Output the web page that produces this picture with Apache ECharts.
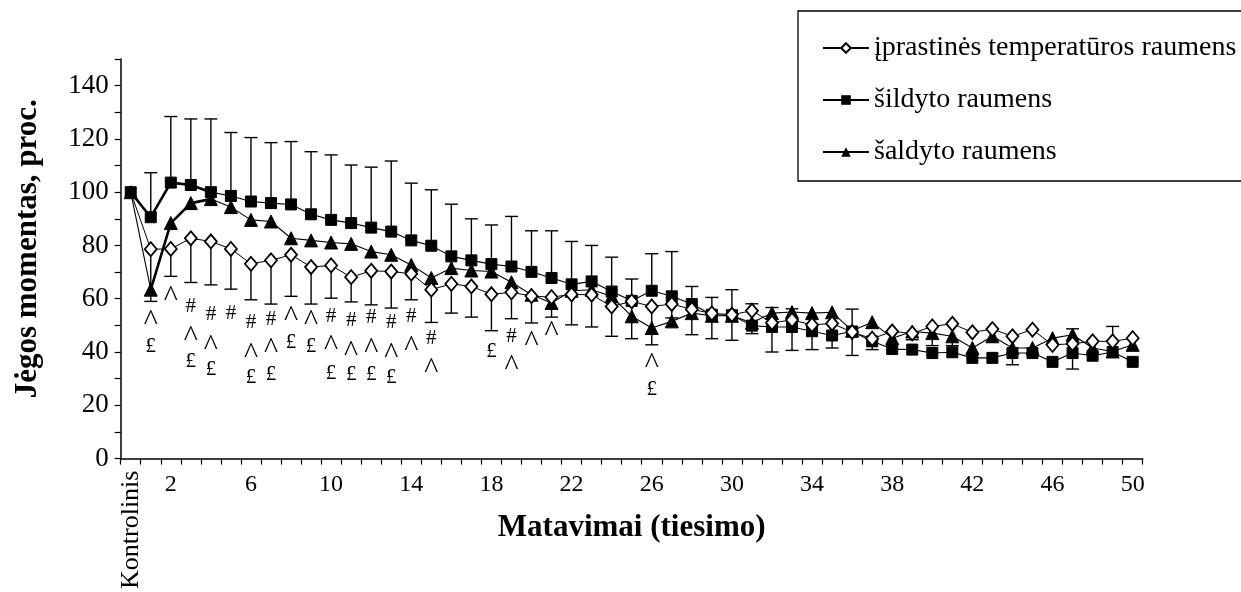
<!DOCTYPE html>
<html>
<head>
<meta charset="utf-8">
<script src="https://cdn.jsdelivr.net/npm/echarts@6/dist/echarts.min.js"></script>
<style>
html,body{margin:0;padding:0;background:#fff;}
#chart{width:1241px;height:592px;}
</style>
</head>
<body>
<div id="chart"></div>
<script>
// ---- data ----
const categories = ['Kontrolinis'];
for (let i = 1; i <= 50; i++) categories.push(String(i));

const seriesNames = ['įprastinės temperatūros raumens', 'šildyto raumens', 'šaldyto raumens'];

const iprastines = [100,78.6,78.7,82.7,81.5,78.7,73.1,74.4,76.5,71.9,72.5,68.1,70.5,70.2,69.4,63.4,65.6,64.6,61.7,62.4,61,60.6,61.6,61.5,57.1,59,57.1,58,56,54.5,54,55.5,51,52,50.2,50.7,47.5,45,47.7,47,49.6,50.6,47.4,48.6,45.9,48.4,42.7,43.1,44,44,45.2];
const sildyto = [100,90.6,103.6,102.7,100,98.6,96.5,95.9,95.4,91.7,89.6,88.4,86.7,85.2,81.9,79.9,75.9,74.4,73,72.1,70.1,67.8,65.4,66.5,62.7,59.2,63,60.9,58,54,53.8,49.9,49.4,49.4,47.8,46.2,47.7,44,41.1,40.9,39.6,39.9,37.8,37.8,39.6,39.6,36.3,39.6,38.6,40,36.3];
const saldyto = [100,63.4,88.4,95.9,97.4,94.4,89.6,89,82.7,81.9,81.1,80.6,77.7,76.5,72.7,67.8,71.5,70.6,70.2,66.2,61.5,58.4,63,63.4,60.9,53.4,49,51.5,54.6,53.6,53.6,51,54.6,55,54.6,54.9,48,51.2,45.2,47.7,47.1,45.9,41.5,45.9,41.5,41.5,45.2,46.5,41.5,40.2,42.7];

// upper error-bar ends (šildyto) and lower error-bar ends (įprastinės)
const sildytoUpper = [null,107.3,128.4,127.5,127.5,122.4,120.5,118.6,119,115.2,114,110.2,109.4,111.7,103.4,100.9,95.5,90,87.7,90.9,85.5,85.5,81.5,80,75.6,67.4,76.9,77.7,64.6,60.5,63.4,58.1,56.7,56.2,null,null,56.1,null,null,null,null,null,null,null,null,null,null,48.7,null,49.6,null];
const iprastinesLower = [null,59,68.4,66.1,65.2,63.6,59.6,58,60.9,58,60.2,58.8,57.7,56.5,59.6,51.1,54.6,53.1,48,52.5,50.9,53.1,50.2,49.4,45.9,45,42.7,52.8,46.5,45,44.4,46.9,40,40.6,40.9,41.5,38.7,40.9,null,44.6,42.4,42.4,null,null,35.2,null,null,33.6,null,null,null];

// significance marks: category index, value position, text
const markIndex = [1,1, 2, 3,3,3, 4,4,4, 5, 6,6,6, 7,7,7, 8,8, 9,9, 10,10,10, 11,11,11, 12,12,12, 13,13,13, 14,14, 15,15, 18, 19,19, 20, 21, 26,26];
const markValue = [54,42.1, 62.7, 57.1,47.7,36.5, 54,44.6,33.4, 54.4, 50.9,41.5,30.3, 52.1,43.4,31.5, 55.2,43.4, 54,42.1, 53.4,44.6,32.1, 51.9,42.1,31.5, 52.8,43.4,31.5, 50.9,41.5,30.3, 53.4,44, 44.9,35.9, 40.2, 45.9,37.1, 45.9, 49.6, 37.8,25.9];
const markText = ['^','£', '^', '#','^','£', '#','^','£', '#', '#','^','£', '#','^','£', '^','£', '^','£', '#','^','£', '#','^','£', '#','^','£', '#','^','£', '#','^', '#','^', '£', '#','^', '^', '^', '^','£'];

const yTicks = [0,20,40,60,80,100,120,140];

// ---- chart ----
const FONT = '"Liberation Serif","Times New Roman",serif';
const chart = echarts.init(document.getElementById('chart'), null, {renderer: 'canvas'});

function errData(vals, ends) {
  const out = [];
  for (let i = 0; i < vals.length; i++) if (ends[i] != null) out.push([i, vals[i], ends[i]]);
  return out;
}
function errRender(params, api) {
  const x = api.value(0);
  const p1 = api.coord([x, api.value(1)]);
  const p2 = api.coord([x, api.value(2)]);
  const w = 6.5;
  const st = {stroke: '#000', lineWidth: 1.4};
  return {type: 'group', children: [
    {type: 'line', shape: {x1: p1[0], y1: p1[1], x2: p2[0], y2: p2[1]}, style: st},
    {type: 'line', shape: {x1: p2[0] - w, y1: p2[1], x2: p2[0] + w, y2: p2[1]}, style: st}
  ]};
}
const marks = markIndex.map((m, k) => [m, markValue[k], k]);
// first segments drawn bolder in the original
const sildytoBold = sildyto.map((v, i) => i <= 4 ? v : null);
const saldytoBold = saldyto.map((v, i) => i >= 1 && i <= 4 ? v : null);
// the control point of the diamond series is hidden behind the square
const iprastinesData = iprastines.map((v, i) => i === 0 ? {value: v, symbol: 'none'} : v);

chart.setOption({
  animation: false,
  grid: {left: 120.7, right: 98.3, top: 59, bottom: 133, containLabel: false},
  legend: {
    orient: 'vertical', left: 798, top: 11,
    padding: [22, 80, 14, 24],
    itemGap: 22, itemWidth: 46, itemHeight: 12,
    borderColor: '#000', borderWidth: 1.3,
    selectedMode: false,
    data: seriesNames,
    textStyle: {fontFamily: FONT, fontSize: 28, color: '#000', lineHeight: 30}
  },
  xAxis: [{
    type: 'category', data: categories, boundaryGap: true,
    axisLine: {lineStyle: {color: '#000', width: 1.5}},
    axisTick: {show: true, interval: 0, length: 6, lineStyle: {color: '#000', width: 1.2}},
    axisLabel: {interval: (idx) => idx > 0 && (idx - 2) % 4 === 0, margin: 14,
      fontFamily: FONT, fontSize: 24, color: '#000'},
    name: 'Matavimai (tiesimo)', nameLocation: 'middle', nameGap: 54,
    nameTextStyle: {fontFamily: FONT, fontSize: 31, fontWeight: 'bold', color: '#000'},
    splitLine: {show: false}
  }, {
    type: 'category', data: categories, boundaryGap: true, position: 'bottom',
    axisLine: {show: false}, axisTick: {show: false}, splitLine: {show: false},
    axisLabel: {interval: (idx) => idx === 0, rotate: 90, margin: 12,
      fontFamily: FONT, fontSize: 26, color: '#000'}
  }],
  yAxis: {
    type: 'value', min: 0, max: 150, interval: 10,
    axisLine: {show: true, lineStyle: {color: '#000', width: 1.5}},
    axisTick: {show: true, length: 6, lineStyle: {color: '#000', width: 1.2}},
    axisLabel: {formatter: (v) => yTicks.indexOf(v) >= 0 ? String(v) : '', margin: 12,
      fontFamily: FONT, fontSize: 27, color: '#000'},
    splitLine: {show: false},
    name: 'Jėgos momentas, proc.', nameLocation: 'middle', nameGap: 77,
    nameTextStyle: {fontFamily: FONT, fontSize: 31, fontWeight: 'bold', color: '#000', padding: [0, 0, 0, 20]}
  },
  series: [
    {type: 'custom', name: 'errS', renderItem: errRender, data: errData(sildyto, sildytoUpper), z: 1, silent: true},
    {type: 'custom', name: 'errI', renderItem: errRender, data: errData(iprastines, iprastinesLower), z: 1, silent: true},
    {type: 'line', name: 'boldS', data: sildytoBold, symbol: 'none', lineStyle: {color: '#000', width: 2.6}, z: 2, silent: true},
    {type: 'line', name: 'boldT', data: saldytoBold, symbol: 'none', lineStyle: {color: '#000', width: 2.6}, z: 2, silent: true},
    {type: 'line', name: seriesNames[2], data: saldyto, symbol: 'triangle', symbolSize: 13, showAllSymbol: true,
      lineStyle: {color: '#000', width: 1.1}, itemStyle: {color: '#000', borderColor: '#000'}, z: 3},
    {type: 'line', name: seriesNames[1], data: sildyto, symbol: 'rect', symbolSize: 11, showAllSymbol: true,
      lineStyle: {color: '#000', width: 1.1}, itemStyle: {color: '#000', borderColor: '#000'}, z: 4},
    {type: 'line', name: seriesNames[0], data: iprastinesData, symbol: 'diamond', symbolSize: [12, 14], showAllSymbol: true,
      lineStyle: {color: '#000', width: 1}, itemStyle: {color: '#fff', borderColor: '#000', borderWidth: 1.8}, z: 5},
    {type: 'custom', name: 'marks', data: marks, z: 6, silent: true,
      renderItem: (params, api) => {
        const p = api.coord([api.value(0), api.value(1)]);
        const t = markText[api.value(2)];
        const caret = t === '^';
        return {type: 'text', x: p[0], y: p[1] + (caret ? 7 : 0),
          style: {text: t, fontFamily: FONT, fontSize: caret ? 30 : 21, fill: '#000', align: 'center', verticalAlign: 'middle'}};
      }}
  ]
});
</script>
</body>
</html>
